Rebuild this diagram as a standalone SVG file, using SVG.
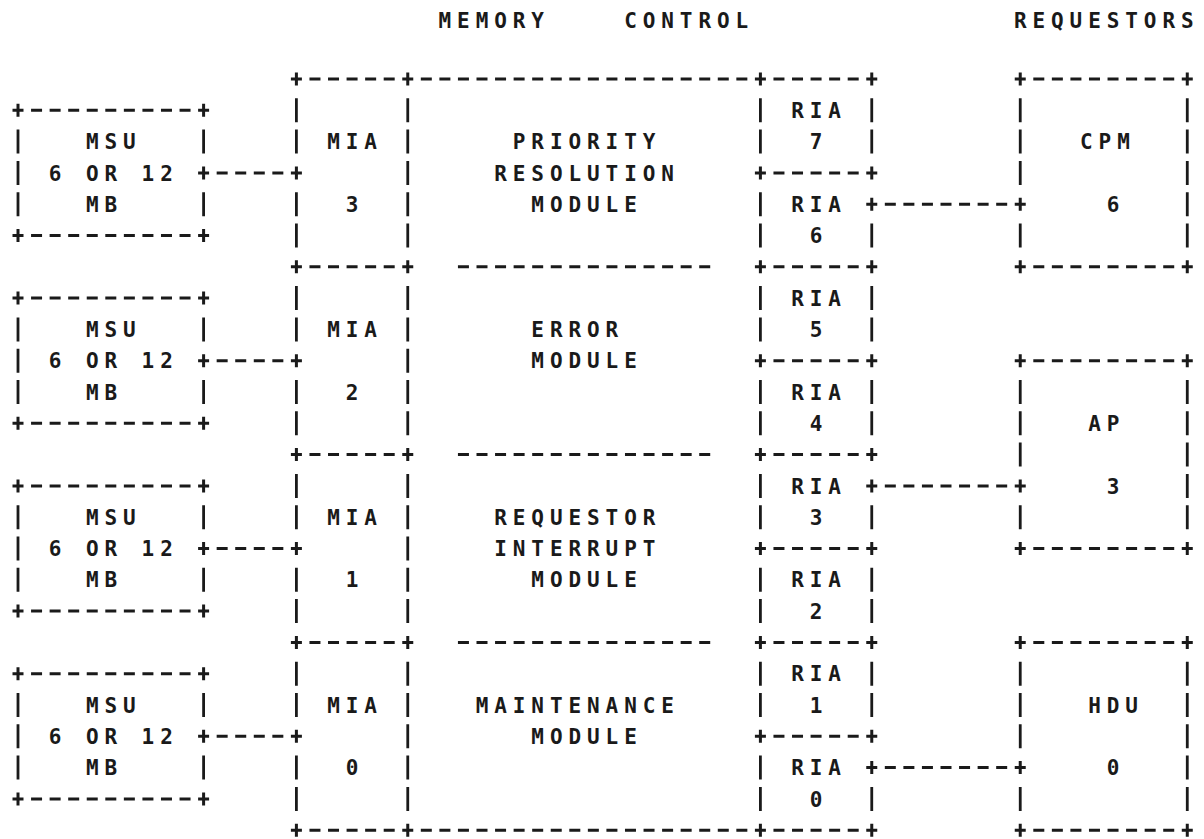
<svg xmlns="http://www.w3.org/2000/svg" xmlns:xlink="http://www.w3.org/1999/xlink" width="1204" height="839" viewBox="0 0 1204 839">
<style>
.h{fill:none;stroke:#1a1a1a;stroke-width:3;stroke-dasharray:0 3.78 11 3.78}
.v{fill:none;stroke:#1a1a1a;stroke-width:2.8;stroke-dasharray:0 3.65 24 3.65}
.t{font-family:"DejaVu Sans Mono","Liberation Mono",monospace;font-size:21px;letter-spacing:5.92px;fill:#1a1a1a;font-weight:bold}
</style>
<defs>
<path id="pl" d="M-5.5 0H5.5M0-6.5V6.5" fill="none" stroke="#1a1a1a" stroke-width="3"/>
</defs>
<rect width="1204" height="839" fill="#ffffff"/>
<g id="headings">
<text class="t" x="438.56" y="27.6">MEMORY</text>
<text class="t" x="624.16" y="27.6">CONTROL</text>
<text class="t" x="1013.92" y="27.6">REQUESTORS</text>
</g>
<g id="connectors">
<path class="h" d="M212.88 172.9H287.12M212.88 360.7H287.12M212.88 548.5H287.12M212.88 736.3H287.12"/>
<path class="h" d="M881.04 204.2H1010.96M881.04 485.9H1010.96M881.04 767.6H1010.96"/>
</g>
<g id="msu-a">
<path class="h" d="M27.28 110.3H194.32M27.28 235.5H194.32"/>
<path class="v" d="M18 125.95V219.85M203.6 125.95V157.25M203.6 188.55V219.85"/>
<use href="#pl" x="18" y="110.3"/><use href="#pl" x="203.6" y="110.3"/><use href="#pl" x="18" y="235.5"/><use href="#pl" x="203.6" y="235.5"/><use href="#pl" x="203.6" y="172.9"/>
<text class="t" x="85.92" y="149.2">MSU</text>
<text class="t" x="48.8" y="180.5">6 OR 12</text>
<text class="t" x="85.92" y="211.8">MB</text>
</g>
<g id="msu-b">
<path class="h" d="M27.28 298.1H194.32M27.28 423.3H194.32"/>
<path class="v" d="M18 313.75V407.65M203.6 313.75V345.05M203.6 376.35V407.65"/>
<use href="#pl" x="18" y="298.1"/><use href="#pl" x="203.6" y="298.1"/><use href="#pl" x="18" y="423.3"/><use href="#pl" x="203.6" y="423.3"/><use href="#pl" x="203.6" y="360.7"/>
<text class="t" x="85.92" y="337">MSU</text>
<text class="t" x="48.8" y="368.3">6 OR 12</text>
<text class="t" x="85.92" y="399.6">MB</text>
</g>
<g id="msu-c">
<path class="h" d="M27.28 485.9H194.32M27.28 611.1H194.32"/>
<path class="v" d="M18 501.55V595.45M203.6 501.55V532.85M203.6 564.15V595.45"/>
<use href="#pl" x="18" y="485.9"/><use href="#pl" x="203.6" y="485.9"/><use href="#pl" x="18" y="611.1"/><use href="#pl" x="203.6" y="611.1"/><use href="#pl" x="203.6" y="548.5"/>
<text class="t" x="85.92" y="524.8">MSU</text>
<text class="t" x="48.8" y="556.1">6 OR 12</text>
<text class="t" x="85.92" y="587.4">MB</text>
</g>
<g id="msu-d">
<path class="h" d="M27.28 673.7H194.32M27.28 798.9H194.32"/>
<path class="v" d="M18 689.35V783.25M203.6 689.35V720.65M203.6 751.95V783.25"/>
<use href="#pl" x="18" y="673.7"/><use href="#pl" x="203.6" y="673.7"/><use href="#pl" x="18" y="798.9"/><use href="#pl" x="203.6" y="798.9"/><use href="#pl" x="203.6" y="736.3"/>
<text class="t" x="85.92" y="712.6">MSU</text>
<text class="t" x="48.8" y="743.9">6 OR 12</text>
<text class="t" x="85.92" y="775.2">MB</text>
</g>
<g id="mia-3">
<path class="h" d="M305.68 79H398.48"/>
<path class="v" d="M296.4 94.65V157.25M296.4 188.55V251.15M407.76 94.65V251.15"/>
<use href="#pl" x="296.4" y="79"/><use href="#pl" x="407.76" y="79"/><use href="#pl" x="296.4" y="172.9"/>
<text class="t" x="327.2" y="149.2">MIA</text>
<text class="t" x="345.76" y="211.8">3</text>
</g>
<g id="mia-2">
<path class="h" d="M305.68 266.8H398.48"/>
<path class="v" d="M296.4 282.45V345.05M296.4 376.35V438.95M407.76 282.45V438.95"/>
<use href="#pl" x="296.4" y="266.8"/><use href="#pl" x="407.76" y="266.8"/><use href="#pl" x="296.4" y="360.7"/>
<text class="t" x="327.2" y="337">MIA</text>
<text class="t" x="345.76" y="399.6">2</text>
</g>
<g id="mia-1">
<path class="h" d="M305.68 454.6H398.48"/>
<path class="v" d="M296.4 470.25V532.85M296.4 564.15V626.75M407.76 470.25V626.75"/>
<use href="#pl" x="296.4" y="454.6"/><use href="#pl" x="407.76" y="454.6"/><use href="#pl" x="296.4" y="548.5"/>
<text class="t" x="327.2" y="524.8">MIA</text>
<text class="t" x="345.76" y="587.4">1</text>
</g>
<g id="mia-0">
<path class="h" d="M305.68 642.4H398.48M305.68 830.2H398.48"/>
<path class="v" d="M296.4 658.05V720.65M296.4 751.95V814.55M407.76 658.05V814.55"/>
<use href="#pl" x="296.4" y="642.4"/><use href="#pl" x="407.76" y="642.4"/><use href="#pl" x="296.4" y="736.3"/><use href="#pl" x="296.4" y="830.2"/><use href="#pl" x="407.76" y="830.2"/>
<text class="t" x="327.2" y="712.6">MIA</text>
<text class="t" x="345.76" y="775.2">0</text>
</g>
<g id="priority-resolution-module">
<path class="h" d="M417.04 79H751.12"/>
<text class="t" x="512.8" y="149.2">PRIORITY</text>
<text class="t" x="494.24" y="180.5">RESOLUTION</text>
<text class="t" x="531.36" y="211.8">MODULE</text>
</g>
<g id="error-module">
<path class="h" d="M454.16 266.8H714"/>
<text class="t" x="531.36" y="337">ERROR</text>
<text class="t" x="531.36" y="368.3">MODULE</text>
</g>
<g id="requestor-interrupt-module">
<path class="h" d="M454.16 454.6H714"/>
<text class="t" x="494.24" y="524.8">REQUESTOR</text>
<text class="t" x="494.24" y="556.1">INTERRUPT</text>
<text class="t" x="531.36" y="587.4">MODULE</text>
</g>
<g id="maintenance-module">
<path class="h" d="M454.16 642.4H714M417.04 830.2H751.12"/>
<text class="t" x="475.68" y="712.6">MAINTENANCE</text>
<text class="t" x="531.36" y="743.9">MODULE</text>
</g>
<g id="ria-7">
<path class="h" d="M769.68 79H862.48"/>
<path class="v" d="M760.4 94.65V157.25M871.76 94.65V157.25"/>
<use href="#pl" x="760.4" y="79"/><use href="#pl" x="871.76" y="79"/>
<text class="t" x="791.2" y="117.9">RIA</text>
<text class="t" x="809.76" y="149.2">7</text>
</g>
<g id="ria-6">
<path class="h" d="M769.68 172.9H862.48"/>
<path class="v" d="M760.4 188.55V251.15M871.76 219.85V251.15"/>
<use href="#pl" x="760.4" y="172.9"/><use href="#pl" x="871.76" y="172.9"/><use href="#pl" x="871.76" y="204.2"/>
<text class="t" x="791.2" y="211.8">RIA</text>
<text class="t" x="809.76" y="243.1">6</text>
</g>
<g id="ria-5">
<path class="h" d="M769.68 266.8H862.48"/>
<path class="v" d="M760.4 282.45V345.05M871.76 282.45V345.05"/>
<use href="#pl" x="760.4" y="266.8"/><use href="#pl" x="871.76" y="266.8"/>
<text class="t" x="791.2" y="305.7">RIA</text>
<text class="t" x="809.76" y="337">5</text>
</g>
<g id="ria-4">
<path class="h" d="M769.68 360.7H862.48"/>
<path class="v" d="M760.4 376.35V438.95M871.76 376.35V438.95"/>
<use href="#pl" x="760.4" y="360.7"/><use href="#pl" x="871.76" y="360.7"/>
<text class="t" x="791.2" y="399.6">RIA</text>
<text class="t" x="809.76" y="430.9">4</text>
</g>
<g id="ria-3">
<path class="h" d="M769.68 454.6H862.48"/>
<path class="v" d="M760.4 470.25V532.85M871.76 501.55V532.85"/>
<use href="#pl" x="760.4" y="454.6"/><use href="#pl" x="871.76" y="454.6"/><use href="#pl" x="871.76" y="485.9"/>
<text class="t" x="791.2" y="493.5">RIA</text>
<text class="t" x="809.76" y="524.8">3</text>
</g>
<g id="ria-2">
<path class="h" d="M769.68 548.5H862.48"/>
<path class="v" d="M760.4 564.15V626.75M871.76 564.15V626.75"/>
<use href="#pl" x="760.4" y="548.5"/><use href="#pl" x="871.76" y="548.5"/>
<text class="t" x="791.2" y="587.4">RIA</text>
<text class="t" x="809.76" y="618.7">2</text>
</g>
<g id="ria-1">
<path class="h" d="M769.68 642.4H862.48"/>
<path class="v" d="M760.4 658.05V720.65M871.76 658.05V720.65"/>
<use href="#pl" x="760.4" y="642.4"/><use href="#pl" x="871.76" y="642.4"/>
<text class="t" x="791.2" y="681.3">RIA</text>
<text class="t" x="809.76" y="712.6">1</text>
</g>
<g id="ria-0">
<path class="h" d="M769.68 736.3H862.48M769.68 830.2H862.48"/>
<path class="v" d="M760.4 751.95V814.55M871.76 783.25V814.55"/>
<use href="#pl" x="760.4" y="736.3"/><use href="#pl" x="871.76" y="736.3"/><use href="#pl" x="871.76" y="767.6"/><use href="#pl" x="760.4" y="830.2"/><use href="#pl" x="871.76" y="830.2"/>
<text class="t" x="791.2" y="775.2">RIA</text>
<text class="t" x="809.76" y="806.5">0</text>
</g>
<g id="cpm-6">
<path class="h" d="M1029.52 79H1178M1029.52 266.8H1178"/>
<path class="v" d="M1020.24 94.65V188.55M1020.24 219.85V251.15M1187.28 94.65V251.15"/>
<use href="#pl" x="1020.24" y="79"/><use href="#pl" x="1187.28" y="79"/><use href="#pl" x="1020.24" y="266.8"/><use href="#pl" x="1187.28" y="266.8"/><use href="#pl" x="1020.24" y="204.2"/>
<text class="t" x="1080" y="149.2">CPM</text>
<text class="t" x="1106.72" y="211.8">6</text>
</g>
<g id="ap-3">
<path class="h" d="M1029.52 360.7H1178M1029.52 548.5H1178"/>
<path class="v" d="M1020.24 376.35V470.25M1020.24 501.55V532.85M1187.28 376.35V532.85"/>
<use href="#pl" x="1020.24" y="360.7"/><use href="#pl" x="1187.28" y="360.7"/><use href="#pl" x="1020.24" y="548.5"/><use href="#pl" x="1187.28" y="548.5"/><use href="#pl" x="1020.24" y="485.9"/>
<text class="t" x="1088.16" y="430.9">AP</text>
<text class="t" x="1106.72" y="493.5">3</text>
</g>
<g id="hdu-0">
<path class="h" d="M1029.52 642.4H1178M1029.52 830.2H1178"/>
<path class="v" d="M1020.24 658.05V751.95M1020.24 783.25V814.55M1187.28 658.05V814.55"/>
<use href="#pl" x="1020.24" y="642.4"/><use href="#pl" x="1187.28" y="642.4"/><use href="#pl" x="1020.24" y="830.2"/><use href="#pl" x="1187.28" y="830.2"/><use href="#pl" x="1020.24" y="767.6"/>
<text class="t" x="1088.16" y="712.6">HDU</text>
<text class="t" x="1106.72" y="775.2">0</text>
</g>
</svg>
